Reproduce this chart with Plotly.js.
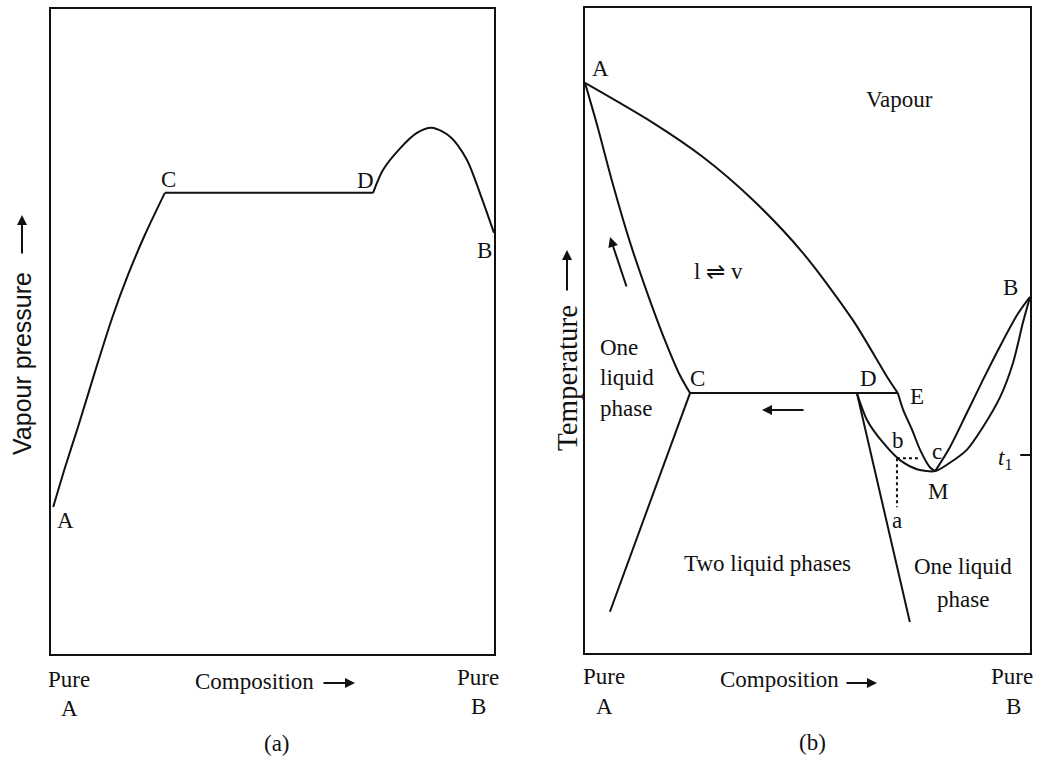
<!DOCTYPE html>
<html>
<head>
<meta charset="utf-8">
<script src="https://cdn.plot.ly/plotly-3.0.1.min.js"></script>
<style>html,body{margin:0;padding:0;background:#fff;}#chart{width:1041px;height:758px;}</style>
</head>
<body>
<div id="chart"></div>
<script>
// ---------- Panel (a): vapour pressure vs composition ----------
const aAC_x = [0.005, 0.032, 0.061, 0.099, 0.138, 0.174, 0.212, 0.257];
const aAC_y = [22.8, 29.0, 35.2, 43.7, 52.1, 58.8, 65.0, 71.5];
const aCD_x = [0.257, 0.727];
const aCD_y = [71.5, 71.5];
const aDB_x = [0.727, 0.749, 0.788, 0.826, 0.860, 0.901, 0.939, 0.968, 1.0];
const aDB_y = [71.5, 75.0, 78.4, 80.8, 81.6, 80.2, 76.6, 71.5, 65.3];

// ---------- Panel (b): temperature vs composition ----------
const bVapAE_x = [0, 0.153, 0.265, 0.378, 0.490, 0.602, 0.679, 0.703];
const bVapAE_y = [88.4, 82.2, 76.9, 70.2, 62.0, 51.6, 42.8, 40.3];
const bLiqAC_x = [0, 0.027, 0.063, 0.101, 0.139, 0.175, 0.213, 0.236];
const bLiqAC_y = [88.4, 81.9, 72.6, 63.7, 56.0, 49.3, 43.1, 40.3];
const bCE_x = [0.236, 0.703];
const bCE_y = [40.3, 40.3];
const bCleft_x = [0.236, 0.056];
const bCleft_y = [40.3, 6.4];
const bDright_x = [0.611, 0.730];
const bDright_y = [40.3, 4.8];
const bLiqDMB_x = [0.611, 0.634, 0.670, 0.708, 0.746, 0.787, 0.820, 0.858, 0.894, 0.933, 0.962, 0.984, 1.0];
const bLiqDMB_y = [40.3, 36.1, 32.6, 29.9, 28.5, 28.2, 29.5, 31.5, 35.0, 39.7, 45.0, 51.2, 55.2];
const bVapEM_x = [0.703, 0.715, 0.735, 0.753, 0.775, 0.787];
const bVapEM_y = [40.3, 37.7, 34.6, 31.5, 28.8, 28.2];
const bVapMB_x = [0.787, 0.820, 0.858, 0.894, 0.933, 0.971, 1.0];
const bVapMB_y = [28.2, 31.9, 37.2, 42.3, 47.6, 52.4, 55.2];
const bDotV_x = [0.701, 0.701];
const bDotV_y = [30.2, 22.6];
const bDotH_x = [0.701, 0.753];
const bDotH_y = [30.2, 30.2];
const bT1_x = [0.978, 1.0];
const bT1_y = [30.7, 30.7];

const W = 1041, H = 758;
const SERIF = 'Liberation Serif, Times New Roman, serif';
const SANS = 'Liberation Sans, Arial, sans-serif';

function ln(x, y, axes, shape, extra) {
  const t = {x: x, y: y, mode: 'lines', hoverinfo: 'skip', showlegend: false,
    line: Object.assign({color: '#111', width: 2, shape: shape || 'linear', smoothing: 0.8}, extra || {})};
  if (axes === 2) { t.xaxis = 'x2'; t.yaxis = 'y2'; }
  return t;
}

const traces = [
  ln(aAC_x, aAC_y, 1, 'spline'),
  ln(aCD_x, aCD_y, 1),
  ln(aDB_x, aDB_y, 1, 'spline'),
  ln(bVapAE_x, bVapAE_y, 2, 'spline'),
  ln(bLiqAC_x, bLiqAC_y, 2, 'spline'),
  ln(bCE_x, bCE_y, 2),
  ln(bCleft_x, bCleft_y, 2),
  ln(bDright_x, bDright_y, 2),
  ln(bLiqDMB_x, bLiqDMB_y, 2, 'spline'),
  ln(bVapEM_x, bVapEM_y, 2, 'spline'),
  ln(bVapMB_x, bVapMB_y, 2, 'spline'),
  ln(bDotV_x, bDotV_y, 2, 'linear', {dash: 'dot', width: 2}),
  ln(bDotH_x, bDotH_y, 2, 'linear', {dash: 'dot', width: 2}),
  ln(bT1_x, bT1_y, 2)
];

function ax(domain, anchor, range) {
  return {domain: domain, anchor: anchor, range: range, showline: true, mirror: true,
    linecolor: '#111', linewidth: 2, showgrid: false, zeroline: false,
    showticklabels: false, ticks: '', fixedrange: true};
}

function T(text, x, y, size, font, extra) {
  return Object.assign({text: text, x: x / W, y: 1 - y / H, xref: 'paper', yref: 'paper',
    xanchor: 'center', yanchor: 'middle', showarrow: false,
    font: {family: font || SERIF, size: size || 23, color: '#111'}}, extra || {});
}
function A(hx, hy, dx, dy) {
  return {text: '', x: hx / W, y: 1 - hy / H, xref: 'paper', yref: 'paper',
    ax: dx, ay: dy, axref: 'pixel', ayref: 'pixel', showarrow: true,
    arrowhead: 2, arrowsize: 1, arrowwidth: 2, arrowcolor: '#111', standoff: 0, startstandoff: 0};
}

const annotations = [
  // panel (a)
  T('C', 168, 179), T('D', 365, 180), T('B', 484, 250), T('A', 65, 520),
  T('Pure', 69, 679), T('A', 69, 708), T('Pure', 478, 677), T('B', 478, 706),
  T('Composition', 254, 681), A(355, 683, -33, 0),
  T('(a)', 277, 743),
  T('Vapour pressure', 22, 364, 25, SANS, {textangle: -90}), A(22, 215, 0, 40),
  // panel (b)
  T('A', 600, 68), T('Vapour', 899, 100), T('l \u21CC v', 718, 272),
  T('B', 1010, 287),
  T('One', 598, 347, 23, SERIF, {xanchor: 'left'}),
  T('liquid', 598, 377, 23, SERIF, {xanchor: 'left'}),
  T('phase', 598, 408, 23, SERIF, {xanchor: 'left'}),
  T('C', 697, 378), T('D', 868, 378), T('E', 917, 396),
  T('b', 898, 440), T('c', 937, 451), T('M', 938, 491), T('a', 897, 520),
  T('<i>t</i><sub>1</sub>', 1005, 459),
  T('Two liquid phases', 767, 563),
  T('One liquid', 963, 566), T('phase', 963, 599),
  T('Pure', 604, 676), T('A', 604, 706), T('Pure', 1012, 676), T('B', 1013, 706),
  T('Composition', 779, 679), A(877, 683, -32, 0),
  T('(b)', 812, 742),
  T('Temperature', 567, 378, 29, SERIF, {textangle: -90}), A(567, 250, 0, 42),
  A(610, 237, 17, 51), A(762, 410, 43, 0)
];

const layout = {
  width: W, height: H, margin: {l: 0, r: 0, t: 0, b: 0},
  paper_bgcolor: '#fff', plot_bgcolor: '#fff', showlegend: false,
  xaxis: ax([51 / W, 494 / W], 'y', [0, 1]),
  yaxis: ax([1 - 654 / H, 1 - 9 / H], 'x', [0, 100]),
  xaxis2: ax([585 / W, 1030 / W], 'y2', [0, 1]),
  yaxis2: ax([1 - 653 / H, 1 - 8 / H], 'x2', [0, 100]),
  annotations: annotations
};

Plotly.newPlot('chart', traces, layout, {staticPlot: true, displayModeBar: false});
</script>
</body>
</html>
